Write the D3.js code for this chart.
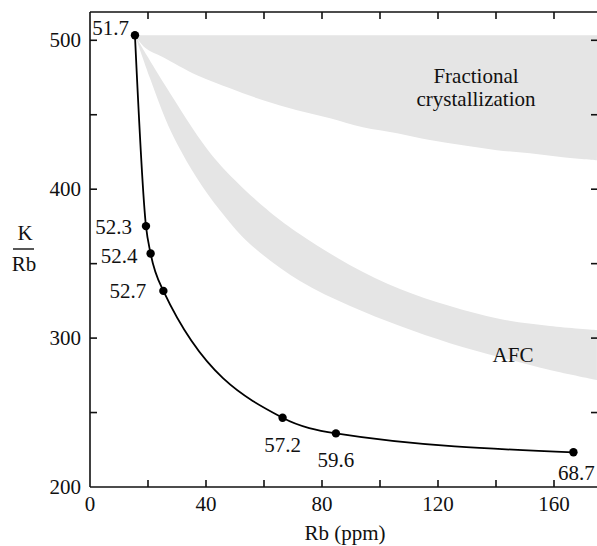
<!DOCTYPE html>
<html>
<head>
<meta charset="utf-8">
<script src="https://cdn.jsdelivr.net/npm/d3@7"></script>
<style>
  body { margin: 0; background: #fff; }
  svg text { font-family: "Liberation Serif", "Times New Roman", serif; font-size: 21px; fill: #111; }
</style>
</head>
<body>
<div id="chart"></div>
<script>
// DATA
var pointLabels = ["51.7", "52.3", "52.4", "52.7", "57.2", "59.6", "68.7"];
var rbValues = [15.5, 19.3, 20.9, 25.3, 66.4, 84.8, 166.7];
var kRbValues = [503.4, 375.2, 356.8, 331.7, 246.5, 236.0, 223.3];

// fractional crystallization band edges
var fcTopRb = [15.5, 175];
var fcTopK = [503.4, 503.4];
var fcBottomRb = [15.5, 19.0, 25.2, 36.9, 48.3, 59.7, 71.4, 82.8, 94.1, 105.9, 117.2, 128.6, 140.3, 151.7, 163.1, 174.8];
var fcBottomK = [503.4, 495.0, 488.6, 476.5, 467.8, 459.7, 453.0, 447.7, 441.6, 437.6, 433.0, 429.5, 426.2, 424.2, 421.5, 419.5];

// AFC band edges
var afcTopRb = [15.5, 25.9, 40.7, 50.0, 62.1, 72.4, 89.7, 106.9, 124.1, 141.4, 158.6, 174.8];
var afcTopK = [503.4, 469.8, 426.2, 406.0, 384.6, 369.8, 349.0, 332.9, 321.5, 312.8, 308.1, 305.4];
var afcBottomRb = [15.5, 20.7, 25.9, 30.3, 36.9, 44.8, 54.5, 72.4, 89.7, 106.9, 124.1, 141.4, 158.6, 174.8];
var afcBottomK = [503.4, 474.5, 447.7, 429.5, 407.4, 385.9, 364.4, 338.3, 321.5, 308.1, 296.6, 287.2, 278.5, 271.8];

var xTicks = [0, 40, 80, 120, 160];
var yTicks = [200, 300, 400, 500];

// SVG
var width = 597, height = 546;
var svg = d3.select("#chart").append("svg")
  .attr("width", width).attr("height", height);

var xScale = d3.scaleLinear().domain([0, 175]).range([90, 597.5]);
var yScale = d3.scaleLinear().domain([200, 519]).range([487, 12]);

svg.append("clipPath").attr("id", "plotclip")
  .append("rect")
  .attr("x", xScale(0)).attr("y", yScale(519))
  .attr("width", xScale(175) - xScale(0)).attr("height", yScale(200) - yScale(519));

function zipPts(xs, ys) {
  return xs.map(function(x, i) { return [x, ys[i]]; });
}

var edgeLine = d3.line()
  .x(function(d) { return xScale(d[0]); })
  .y(function(d) { return yScale(d[1]); })
  .curve(d3.curveCatmullRom.alpha(0.5));

function bandPath(a, b) {
  var p1 = edgeLine(a);
  var p2 = edgeLine(b.slice().reverse());
  return p1 + "L" + p2.slice(1) + "Z";
}

var bands = svg.append("g").attr("clip-path", "url(#plotclip)");
bands.append("path")
  .attr("d", bandPath(zipPts(fcTopRb, fcTopK), zipPts(fcBottomRb, fcBottomK)))
  .attr("fill", "#e5e5e5");
bands.append("path")
  .attr("d", bandPath(zipPts(afcTopRb, afcTopK), zipPts(afcBottomRb, afcBottomK)))
  .attr("fill", "#e5e5e5");

// band labels
svg.append("text").attr("x", 476).attr("y", 83).attr("text-anchor", "middle").text("Fractional");
svg.append("text").attr("x", 476).attr("y", 106).attr("text-anchor", "middle").text("crystallization");
svg.append("text").attr("x", 513).attr("y", 362).attr("text-anchor", "middle").text("AFC");

// axes
var axes = svg.append("g").attr("stroke", "#111").attr("stroke-width", 1.6);
axes.append("line").attr("x1", xScale(0)).attr("x2", width).attr("y1", yScale(200)).attr("y2", yScale(200));
axes.append("line").attr("x1", xScale(0)).attr("x2", width).attr("y1", yScale(519)).attr("y2", yScale(519));
axes.append("line").attr("x1", xScale(0)).attr("x2", xScale(0)).attr("y1", yScale(519)).attr("y2", yScale(200));

var xMinor = d3.range(20, 175, 20);
var yMinor = d3.range(250, 519, 50);
xMinor.forEach(function(v) {
  axes.append("line").attr("x1", xScale(v)).attr("x2", xScale(v)).attr("y1", yScale(200)).attr("y2", yScale(200) - 7);
  axes.append("line").attr("x1", xScale(v)).attr("x2", xScale(v)).attr("y1", yScale(519)).attr("y2", yScale(519) + 7);
});
yMinor.forEach(function(v) {
  axes.append("line").attr("x1", xScale(0)).attr("x2", xScale(0) + 7).attr("y1", yScale(v)).attr("y2", yScale(v));
  axes.append("line").attr("x1", width).attr("x2", width - 6).attr("y1", yScale(v)).attr("y2", yScale(v));
});

svg.selectAll("text.xtick").data(xTicks).enter().append("text")
  .attr("class", "xtick")
  .attr("x", function(d) { return xScale(d); })
  .attr("y", 511)
  .attr("text-anchor", "middle")
  .text(function(d) { return d; });

svg.selectAll("text.ytick").data(yTicks).enter().append("text")
  .attr("class", "ytick")
  .attr("x", 81)
  .attr("y", function(d) { return yScale(d) + 7; })
  .attr("text-anchor", "end")
  .text(function(d) { return d; });

// axis titles
svg.append("text").attr("x", 345).attr("y", 540).attr("text-anchor", "middle").text("Rb (ppm)");
svg.append("text").attr("x", 25).attr("y", 240).attr("text-anchor", "middle").text("K");
svg.append("line").attr("x1", 13).attr("x2", 34).attr("y1", 249).attr("y2", 249)
  .attr("stroke", "#111").attr("stroke-width", 1.4);
svg.append("text").attr("x", 24).attr("y", 271).attr("text-anchor", "middle").text("Rb");

// trend curve and points
var pts = zipPts(rbValues, kRbValues);
var trend = d3.line()
  .x(function(d) { return xScale(d[0]); })
  .y(function(d) { return yScale(d[1]); })
  .curve(d3.curveMonotoneX);

svg.append("path")
  .attr("d", trend(pts))
  .attr("fill", "none")
  .attr("stroke", "#000")
  .attr("stroke-width", 1.8);

svg.selectAll("circle.pt").data(pts).enter().append("circle")
  .attr("class", "pt")
  .attr("cx", function(d) { return xScale(d[0]); })
  .attr("cy", function(d) { return yScale(d[1]); })
  .attr("r", 4.2)
  .attr("fill", "#000");

// label placement relative to dots
var labelPlace = [
  {dx: -6, dy: 0, anchor: "end"},
  {dx: -14, dy: 8, anchor: "end"},
  {dx: -13, dy: 9, anchor: "end"},
  {dx: -17, dy: 7, anchor: "end"},
  {dx: 0, dy: 34, anchor: "middle"},
  {dx: 0, dy: 34, anchor: "middle"},
  {dx: 3, dy: 28, anchor: "middle"}
];

svg.selectAll("text.ptlabel").data(pts).enter().append("text")
  .attr("class", "ptlabel")
  .attr("x", function(d, i) { return xScale(d[0]) + labelPlace[i].dx; })
  .attr("y", function(d, i) { return yScale(d[1]) + labelPlace[i].dy; })
  .attr("text-anchor", function(d, i) { return labelPlace[i].anchor; })
  .text(function(d, i) { return pointLabels[i]; });
</script>
</body>
</html>
